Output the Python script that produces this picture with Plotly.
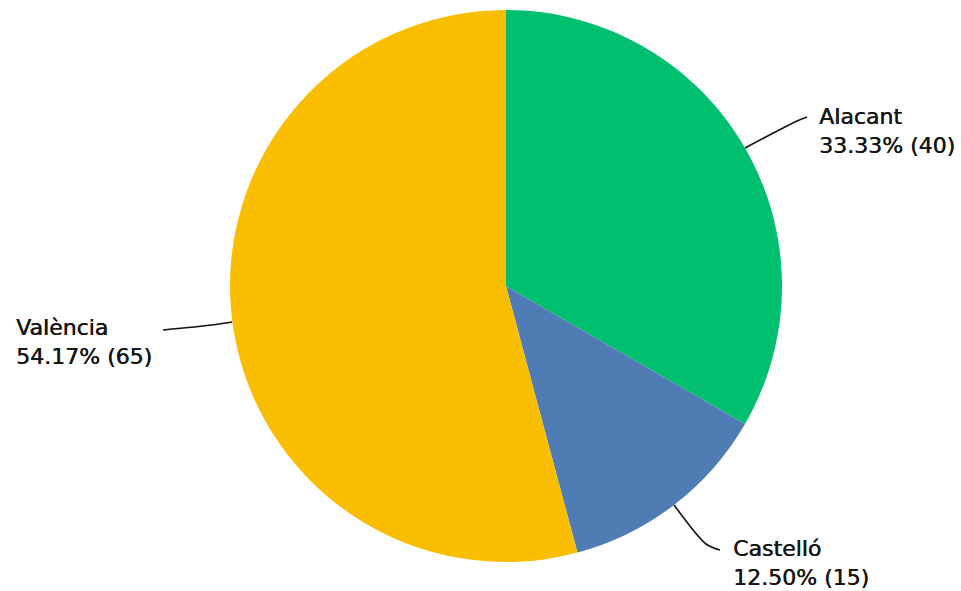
import math
import plotly.graph_objects as go

# ---- data ----
categories = ["Alacant", "Castelló", "València"]
counts = [40, 15, 65]
colors = ["#00BF6F", "#507CB6", "#F9BE00"]

# ---- layout constants (pixels) ----
W, H = 961, 591
CX, CY, R = 506, 286, 276
FONT = dict(family="DejaVu Sans", size=22, color="#161616",
            shadow="0.6px 0 0 #161616")

# label placement: text left x, text block centre y, leader elbow and end
label_pos = {
    "Alacant": dict(tx=817, ty=131, elbow=(797, 121), end=(807, 117)),
    "Castelló": dict(tx=731, ty=563, elbow=(706, 544), end=(720, 550)),
    "València": dict(tx=14, ty=342, elbow=(212, 325), end=(163, 330)),
}

total = sum(counts)

fig = go.Figure()

fig.add_trace(go.Pie(
    labels=categories,
    values=counts,
    marker=dict(colors=colors, line=dict(width=0)),
    sort=False,
    direction="clockwise",
    rotation=0,
    textinfo="none",
    hoverinfo="label+percent+value",
    showlegend=False,
    domain=dict(x=[(CX - R) / W, (CX + R) / W],
                y=[1 - (CY + R) / H, 1 - (CY - R) / H]),
))

annotations = []
cum = 0
for name, v in zip(categories, counts):
    mid = 2 * math.pi * (cum + v / 2) / total
    cum += v
    sx = CX + R * math.sin(mid)
    sy = CY - R * math.cos(mid)
    p = label_pos[name]
    xs = [sx, p["elbow"][0], p["end"][0]]
    ys = [sy, p["elbow"][1], p["end"][1]]
    fig.add_trace(go.Scatter(
        x=xs, y=ys, mode="lines",
        line=dict(color="#111111", width=1.6, shape="spline", smoothing=0.8),
        hoverinfo="skip", showlegend=False,
    ))
    pct = v / total * 100
    annotations.append(dict(x=p["tx"], y=p["ty"],
                            text=f"{name}<br>{pct:.2f}% ({v})",
                            xref="x", yref="y", xanchor="left", yanchor="middle",
                            align="left", showarrow=False, font=FONT))

fig.update_layout(
    width=W, height=H,
    margin=dict(l=0, r=0, t=0, b=0),
    paper_bgcolor="white", plot_bgcolor="rgba(0,0,0,0)",
    xaxis=dict(range=[0, W], visible=False, fixedrange=True),
    yaxis=dict(range=[H, 0], visible=False, fixedrange=True),
    annotations=annotations,
    showlegend=False,
)

fig.write_html("out.html",
               config={"displayModeBar": False},
               post_script="document.body.style.margin='0';document.body.style.overflow='hidden';")
